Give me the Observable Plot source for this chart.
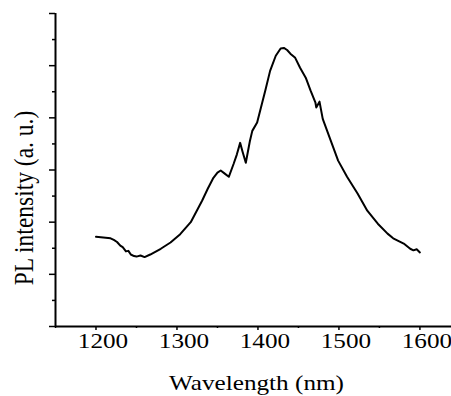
<!DOCTYPE html>
<html>
<head>
<meta charset="utf-8">
<script src="https://cdn.jsdelivr.net/npm/d3@7"></script>
<script src="https://cdn.jsdelivr.net/npm/@observablehq/plot@0.6"></script>
<style>
  html, body { margin: 0; padding: 0; background: #fff; }
</style>
</head>
<body>
<div id="chart"></div>
<script>
// Data
const wavelength = [1200, 1206, 1212, 1218, 1222, 1226, 1230, 1233, 1237, 1240, 1243, 1247, 1250, 1255, 1260, 1267, 1280, 1292, 1304, 1317, 1331, 1338, 1345, 1350, 1354, 1359, 1364, 1370, 1374, 1378, 1381, 1385, 1390, 1393, 1399, 1409, 1415, 1422, 1428, 1432, 1436, 1440, 1446, 1452, 1459, 1465, 1471, 1472, 1476, 1480, 1490, 1499, 1510, 1523, 1535, 1548, 1560, 1567, 1580, 1588, 1592, 1596, 1600];
const intensity  = [1.72, 1.71, 1.70, 1.69, 1.66, 1.62, 1.55, 1.52, 1.44, 1.45, 1.38, 1.35, 1.34, 1.36, 1.33, 1.38, 1.49, 1.61, 1.77, 2.00, 2.41, 2.64, 2.85, 2.95, 2.99, 2.93, 2.87, 3.12, 3.30, 3.52, 3.35, 3.14, 3.55, 3.75, 3.91, 4.52, 4.90, 5.19, 5.33, 5.34, 5.30, 5.23, 5.15, 4.96, 4.77, 4.52, 4.29, 4.20, 4.31, 3.98, 3.56, 3.18, 2.87, 2.55, 2.22, 1.97, 1.78, 1.69, 1.59, 1.49, 1.46, 1.48, 1.42];

const xMajorTicks = [1200, 1300, 1400, 1500, 1600];
const xMinorTicks = [1150, 1250, 1350, 1450, 1550];
const yMajorTicks = [0, 1, 2, 3, 4, 5, 6];
const yMinorTicks = [0.5, 1.5, 2.5, 3.5, 4.5, 5.5];
const xLabel = ["Wavelength (nm)"];
const yLabel = ["PL intensity (a. u.)"];

const data = wavelength.map((w, i) => ({wavelength: w, intensity: intensity[i]}));

const chart = Plot.plot({
  width: 451,
  height: 396,
  marginLeft: 55,
  marginRight: 0,
  marginTop: 13,
  marginBottom: 70,
  style: {fontFamily: "'Liberation Serif', 'Times New Roman', serif", fontSize: "21px", color: "#000", background: "#fff"},
  x: {domain: [1150, 1639]},
  y: {domain: [0, 6]},
  marks: [
    // tick marks (no labels)
    Plot.axisX({ticks: xMajorTicks, tickSize: 4, tickFormat: () => "", label: null, strokeWidth: 1.5}),
    Plot.axisX({ticks: xMinorTicks, tickSize: 2, tickFormat: () => "", label: null, strokeWidth: 1.5}),
    // tick labels (slightly offset as in the scan)
    Plot.axisX({ticks: xMajorTicks, tickSize: 0, tickPadding: 7, tickFormat: d => String(d), label: null, dx: 7, fontSize: 21}),
    Plot.axisY({ticks: yMajorTicks, tickSize: 6, tickFormat: () => "", label: null, strokeWidth: 1.5}),
    Plot.axisY({ticks: yMinorTicks, tickSize: 3, tickFormat: () => "", label: null, strokeWidth: 1.5}),
    Plot.ruleX([1150], {y1: 0, y2: 6, strokeWidth: 2}),
    Plot.ruleY([0], {strokeWidth: 2}),
    Plot.line(data, {x: "wavelength", y: "intensity", stroke: "#000", strokeWidth: 2, curve: "linear"}),
    Plot.text(xLabel, {text: d => d, frameAnchor: "bottom", dy: 57, dx: 3, textAnchor: "middle", lineAnchor: "middle", fontSize: 21}),
    Plot.text(yLabel, {text: d => d, frameAnchor: "left", dx: -31, dy: 28, rotate: -90, textAnchor: "middle", lineAnchor: "middle", fontSize: 23.5})
  ]
});

// emulate the horizontally stretched glyphs of the scanned figure
chart.querySelectorAll("text").forEach(t => {
  const tr = t.getAttribute("transform") || "";
  if (!t.textContent) return;
  if (tr.includes("rotate")) t.setAttribute("transform", tr + " scale(1,1.15)");
  else t.setAttribute("transform", tr + " scale(1.2,1)");
});

document.getElementById("chart").appendChild(chart);
</script>
</body>
</html>
